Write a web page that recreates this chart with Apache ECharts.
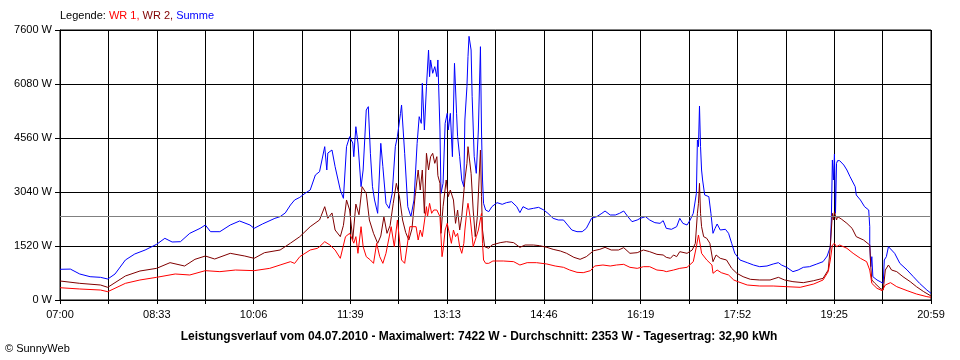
<!DOCTYPE html>
<html>
<head>
<meta charset="utf-8">
<script src="https://cdn.jsdelivr.net/npm/echarts@6/dist/echarts.min.js"></script>
<style>
html,body{margin:0;padding:0;background:#fff;}
#c{width:960px;height:360px;}
</style>
</head>
<body>
<div id="c"></div>
<script>
// Tick labels of the time axis (every second grid line carries a label)
const xLabels = ['07:00','08:33','10:06','11:39','13:13','14:46','16:19','17:52','19:25','20:59'];
const dayMinutes = 839;          // 07:00 .. 20:59
const gridDivisions = 18;
const yMax = 7600, yStep = 1520;
const average = 2353;

// Summe (blue): minutes after 07:00, watts
const sumMin = [0,10,19,29,39,46,53,63,72,82,93,101,108,116,125,135,140,145,154,164,173,183,187,195,207,212,217,222,226,231,236,241,246,250,255,257,258,262,265,270,273,276,279,282,283,285,287,290,292,295,297,299,301,303,306,309,311,314,317,320,323,325,328,329,332,335,338,341,344,346,348,349,351,353,355,356,357,359,361,363,364,366,367,369,371,373,374,376,378,380,382,383,385,387,389,390,392,393,394,396,397,399,401,403,405,406,407,408,410,413,416,421,426,430,435,440,443,446,451,456,461,466,470,475,480,485,489,493,498,503,507,512,517,522,525,530,535,539,543,547,551,556,559,564,568,573,578,581,584,589,594,597,600,604,607,610,613,614,615,616,617,618,619,621,625,627,629,631,633,636,641,644,647,650,655,662,668,674,681,687,692,695,700,706,711,716,722,729,735,739,742,743,744,745,746,747,748,749,751,755,758,761,766,767,771,775,779,780,780,781,782,783,787,790,793,794,796,798,801,804,809,816,822,828,835,839];
const sumW = [864,870,732,656,638,591,732,1126,1295,1407,1567,1736,1633,1641,1877,2017,2111,1923,1923,2111,2224,2111,2017,2139,2299,2346,2450,2674,2815,2890,3002,3096,3519,3612,4316,3659,4137,4222,3753,3096,2862,4316,4597,4419,4034,4878,4419,3190,3659,5348,5442,4129,3190,2815,2440,4410,3753,2721,2580,3002,4316,4597,5254,5489,4129,2627,2346,2815,4410,5160,4972,6100,4785,6006,7037,6286,6756,6382,6568,6286,6756,4785,3002,3284,4972,5254,4785,5254,4034,6662,5254,4597,4034,3378,3190,5066,6006,6850,7422,7037,5723,4034,3566,4785,7130,4785,3378,2721,2533,2487,2627,2740,2693,2740,2768,2627,2459,2627,2552,2580,2608,2533,2440,2299,2252,2252,2111,1970,1923,1923,2017,2299,2346,2440,2505,2393,2393,2440,2505,2346,2205,2252,2299,2346,2252,2177,2158,2233,2017,1990,2064,2299,2158,2111,2252,2440,3002,4504,4316,5461,4316,3659,3378,2956,2909,2440,1877,2017,2139,1970,1990,1877,1595,1314,1126,1051,985,938,957,1013,1051,985,920,798,844,920,938,1013,1079,1238,1501,2252,3941,3378,4110,2440,3847,3922,3922,3800,3659,3472,3190,2956,2815,2627,2533,2064,1595,938,1220,656,563,516,469,1126,1220,1501,1407,1314,1032,844,656,469,281,188];

// WR 2 (dark red)
const wr2Min = [0,19,39,46,63,77,93,106,120,130,140,149,164,178,187,197,212,222,231,241,250,255,258,262,265,270,273,276,279,282,285,288,291,295,298,302,306,309,312,315,318,321,324,327,330,333,336,339,342,345,347,349,351,353,355,357,359,361,363,364,366,367,369,372,374,376,379,381,383,385,387,390,392,393,396,398,400,402,405,406,407,409,413,416,424,430,437,443,448,456,462,469,475,482,488,495,501,507,514,520,525,531,538,543,549,556,562,568,575,581,584,588,591,594,597,604,609,612,614,615,616,617,618,620,623,626,629,632,636,642,647,652,658,665,674,684,692,698,706,716,726,735,740,742,744,745,746,748,749,753,758,763,767,774,780,781,782,785,790,793,795,798,801,806,812,819,825,832,839];
const wr2W = [535,469,422,357,676,816,891,1051,957,1145,1238,1154,1314,1238,1173,1332,1407,1600,1783,2064,2252,2627,2300,2450,1970,1783,2100,2815,2533,1700,2700,2400,3190,3000,2252,1877,1595,1800,2346,1877,2100,2721,3284,2900,2252,1900,1689,2000,2909,3659,3096,3659,2440,4129,3659,4034,4129,3847,4034,3500,3284,1877,2627,3378,2909,3096,2815,2158,2533,1970,2346,3378,3847,4316,3566,2533,1783,2346,4222,2909,1970,1501,1455,1548,1614,1641,1614,1482,1548,1548,1529,1482,1426,1379,1314,1201,1145,1220,1388,1426,1482,1407,1407,1473,1314,1332,1407,1360,1285,1267,1201,1173,1267,1220,1360,1314,1407,1595,2440,2721,3284,2440,2064,1783,1736,1595,1079,1267,1173,1126,891,751,656,582,563,563,638,563,516,488,544,610,844,1501,2440,2252,2487,2252,2346,2271,2158,2017,1783,1689,1548,938,563,469,328,281,844,985,844,798,656,516,375,234,113];

// WR 1 (red)
const wr1Min = [0,19,39,46,63,77,93,111,125,140,154,169,187,202,212,222,226,231,241,248,250,255,260,265,270,275,279,283,285,287,290,292,295,299,302,305,308,311,314,319,322,325,327,329,332,337,343,345,347,349,353,354,356,358,360,363,366,368,369,371,373,375,377,379,381,383,385,387,389,390,392,393,395,397,398,401,403,406,407,408,410,413,417,427,437,443,450,459,469,477,485,491,498,504,511,515,523,530,536,543,549,556,562,568,575,581,584,591,597,604,610,613,615,617,618,623,628,629,633,637,644,649,653,662,674,687,700,713,726,735,740,742,744,746,748,751,758,764,771,777,780,782,787,792,795,800,806,816,825,835,839];
const wr1W = [346,310,281,234,469,563,638,732,704,826,798,844,826,891,985,1079,1030,1220,1407,1455,1501,1641,1548,1407,1173,1783,1877,1600,1783,1314,2064,1501,1220,1126,1032,1595,1220,1032,1314,2064,1501,2252,1689,1126,1032,2064,2064,1689,1970,1783,2627,2346,2721,2440,2533,2533,2346,1220,1407,1970,2158,1877,1595,1970,1783,1877,1501,1314,1595,1970,2533,2721,2346,1783,1501,1783,1970,2440,1595,1126,1032,1032,1098,1098,1079,985,1051,1051,1013,957,920,844,779,769,826,957,985,957,985,1004,920,891,938,938,844,826,798,844,891,920,1079,1501,1830,1501,1314,1126,985,751,844,769,704,563,516,422,394,394,375,357,450,563,798,1126,1548,1595,1501,1548,1455,1314,1173,1079,844,469,328,263,422,488,375,263,169,94,75];

const zip = (a, b) => a.map((m, i) => [m, b[i]]);
const step = dayMinutes / gridDivisions;
const FONT = '"Liberation Sans", Arial, sans-serif';

const chart = echarts.init(document.getElementById('c'), null, {renderer: 'canvas'});
chart.setOption({
  backgroundColor: '#fff',
  animation: false,
  grid: {left: 60, top: 30, width: 871, height: 270, show: true, borderColor: '#000', borderWidth: 1, backgroundColor: 'transparent'},
  xAxis: {
    type: 'value', min: 0, max: dayMinutes, interval: step,
    axisLine: {show: true, lineStyle: {color: '#000', width: 1}},
    axisTick: {show: true, length: 4, lineStyle: {color: '#000'}},
    splitLine: {show: true, lineStyle: {color: '#000', width: 1}},
    axisLabel: {
      color: '#000', fontFamily: FONT, fontSize: 11, margin: 9, showMinLabel: true, showMaxLabel: true,
      formatter: v => { const k = Math.round(v / step); return k % 2 ? '' : (xLabels[k / 2] || ''); }
    }
  },
  yAxis: {
    type: 'value', min: 0, max: yMax, interval: yStep,
    axisLine: {show: true, lineStyle: {color: '#000', width: 1}},
    axisTick: {show: true, length: 5, lineStyle: {color: '#000'}},
    splitLine: {show: true, lineStyle: {color: '#000', width: 1}},
    axisLabel: {color: '#000', fontFamily: FONT, fontSize: 11, margin: 8, formatter: v => String(Math.round(v)) + ' W'}
  },
  series: [
    {name: 'Summe', type: 'line', data: zip(sumMin, sumW), showSymbol: false, symbol: 'none',
     lineStyle: {color: '#0000ff', width: 1}, itemStyle: {color: '#0000ff'},
     markLine: {silent: true, symbol: 'none', label: {show: false}, lineStyle: {color: '#808080', width: 1, type: 'solid'}, data: [{yAxis: average}]}},
    {name: 'WR 2', type: 'line', data: zip(wr2Min, wr2W), showSymbol: false, symbol: 'none',
     lineStyle: {color: '#800000', width: 1}, itemStyle: {color: '#800000'}},
    {name: 'WR 1', type: 'line', data: zip(wr1Min, wr1W), showSymbol: false, symbol: 'none',
     lineStyle: {color: '#ff0000', width: 1}, itemStyle: {color: '#ff0000'}}
  ],
  graphic: [
    {type: 'text', left: 60, top: 10, style: {
      text: '{k|Legende: }{a|WR 1, }{b|WR 2, }{c|Summe}',
      rich: {
        k: {fill: '#000', fontFamily: FONT, fontSize: 11},
        a: {fill: '#ff0000', fontFamily: FONT, fontSize: 11},
        b: {fill: '#800000', fontFamily: FONT, fontSize: 11},
        c: {fill: '#0000ff', fontFamily: FONT, fontSize: 11}
      }
    }},
    {type: 'text', x: 479, y: 337, style: {
      text: 'Leistungsverlauf vom 04.07.2010 - Maximalwert: 7422 W - Durchschnitt: 2353 W - Tagesertrag: 32,90 kWh',
      fill: '#000', font: 'bold 12px ' + FONT, textAlign: 'center', textVerticalAlign: 'middle'
    }},
    {type: 'text', left: 5, top: 343, style: {
      text: '\u00A9 SunnyWeb', fill: '#000', font: '11px ' + FONT
    }}
  ]
});
</script>
</body>
</html>
